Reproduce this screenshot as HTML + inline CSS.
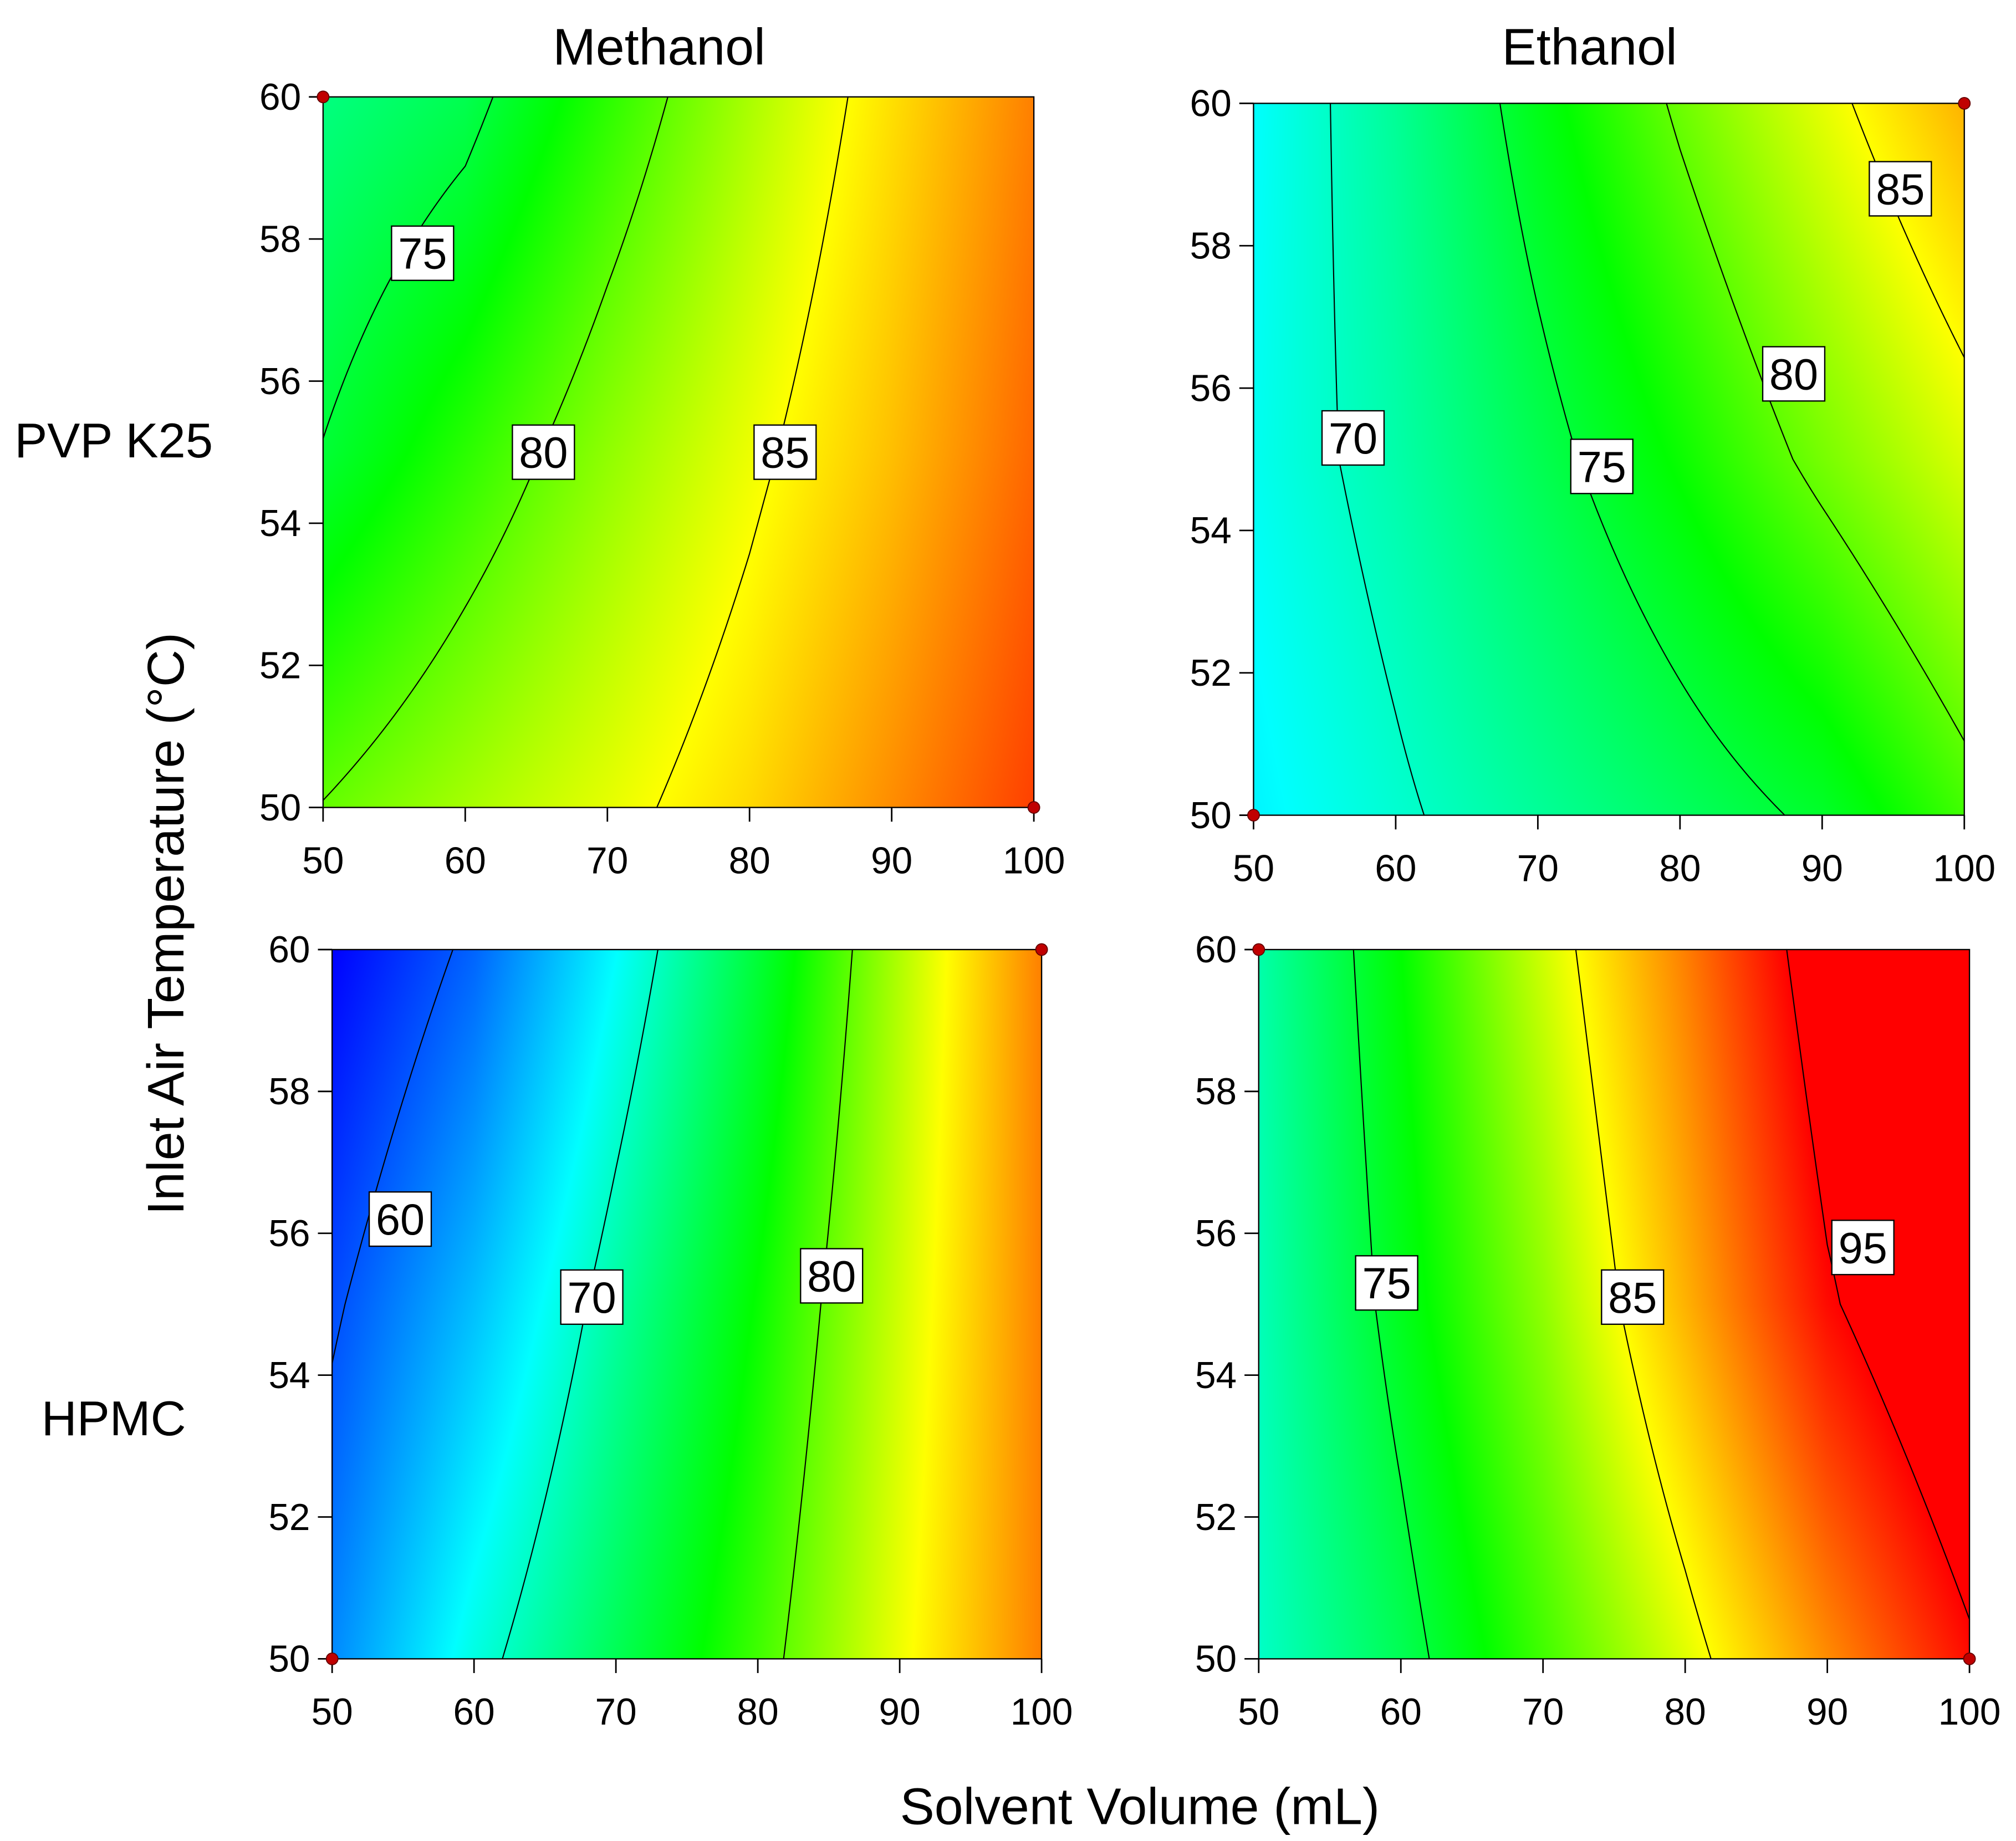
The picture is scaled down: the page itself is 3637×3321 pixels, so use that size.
<!DOCTYPE html>
<html><head><meta charset="utf-8"><style>
html,body{margin:0;padding:0;background:#fff;}
#wrap{position:relative;width:3637px;height:3321px;overflow:hidden;}
canvas{position:absolute;}
svg{position:absolute;left:0;top:0;}
text{font-family:"Liberation Sans",sans-serif;fill:#000;}
</style></head><body>
<div id="wrap">
<canvas id="c0"></canvas>
<canvas id="c1"></canvas>
<canvas id="c2"></canvas>
<canvas id="c3"></canvas>
<svg id="svg" width="3637" height="3321" viewBox="0 0 1560 1425" preserveAspectRatio="none">
<text x="510" y="50" font-size="40" text-anchor="middle">Methanol</text>
<text x="1230" y="50" font-size="40" text-anchor="middle">Ethanol</text>
<text x="88" y="354" font-size="38" text-anchor="middle">PVP K25</text>
<text x="88" y="1111" font-size="38" text-anchor="middle">HPMC</text>
<text x="0" y="0" font-size="40" text-anchor="middle" transform="translate(142,715) rotate(-90)">Inlet Air Temperature (°C)</text>
<text x="882" y="1412" font-size="40" text-anchor="middle">Solvent Volume (mL)</text>
</svg>
</div>
<script>
const xs=[50,60,70,80,90,100];
const ys=[50,55,60];
const tlVals=[[80.1,82.2,84.2,86.5,89.5,92.5],[75.1,78.3,81.5,84.4,87.5,91],[72.5,74.2,78.3,82.3,86.2,90]];
const trVals=[[67.5,69.6,71.6,73.6,75.5,79],[68.5,71,74.1,77.3,80.7,83.8],[68,71.7,76.2,80.4,84.2,88]];
const blVals=[[62.5,69,74,79,84.5,90],[59.5,65,71.3,77.2,83.5,90],[56,60.7,67.9,75,82.5,90]];
const brVals=[[70,74,79,84,89.5,94.5],[70.5,76,81.5,88,94.6,99],[71,77,83.5,90,97,100]];
const tlLevels=[75,80,85], trLevels=[70,75,80,85], blLevels=[60,70,80], brLevels=[75,85,95];
const tlLabels=[[57,57.8,75],[65.5,55,80],[82.5,55,85]];
const trLabels=[[57,55.3,70],[74.5,54.9,75],[88,56.2,80],[95.5,58.8,85]];
const blLabels=[[54.8,56.2,60],[68.3,55.1,70],[85.2,55.4,80]];
const brLabels=[[59,55.3,75],[76.3,55.1,85],[92.5,55.8,95]];
const xTicks=[50,60,70,80,90,100], yTicks=[50,52,54,56,58,60];
const S=3637/1560, SY=3321/1425;
const panels=[
 {id:'c0',name:'methanol-pvp',x0:250,y0:75,x1:800,y1:625,v:tlVals,lv:tlLevels,lb:tlLabels,dots:[[50,60],[100,50]]},
 {id:'c1',name:'ethanol-pvp',x0:970,y0:80,x1:1520,y1:631,v:trVals,lv:trLevels,lb:trLabels,dots:[[50,50],[100,60]]},
 {id:'c2',name:'methanol-hpmc',x0:257,y0:735,x1:806,y1:1284,v:blVals,lv:blLevels,lb:blLabels,dots:[[100,60],[50,50]]},
 {id:'c3',name:'ethanol-hpmc',x0:974,y0:735,x1:1524,y1:1284,v:brVals,lv:brLevels,lb:brLabels,dots:[[50,60],[100,50]]}];
function interp(v,x,y){
 let i=Math.min(4,Math.max(0,Math.floor((x-50)/10)));let tx=(x-xs[i])/10;
 let j=Math.min(1,Math.max(0,Math.floor((y-50)/5)));let ty=(y-ys[j])/5;
 const a=v[j][i]*(1-tx)+v[j][i+1]*tx, b=v[j+1][i]*(1-tx)+v[j+1][i+1]*tx;
 return a*(1-ty)+b*ty;}
const stops=[[56,0,0,255],[68,0,255,255],[77,0,255,0],[85,255,255,0],[95,255,0,0]];
function color(z){
 if(z<=stops[0][0])return stops[0].slice(1);
 for(let k=1;k<stops.length;k++){if(z<=stops[k][0]){const a=stops[k-1],b=stops[k],t=(z-a[0])/(b[0]-a[0]);return [a[1]+(b[1]-a[1])*t,a[2]+(b[2]-a[2])*t,a[3]+(b[3]-a[3])*t];}}
 return stops[stops.length-1].slice(1);}
const NS='http://www.w3.org/2000/svg';const svg=document.getElementById('svg');
function el(tag,attrs,parent){const e=document.createElementNS(NS,tag);for(const k in attrs)e.setAttribute(k,attrs[k]);(parent||svg).appendChild(e);return e;}
panels.forEach(p=>{
 const sx=x=>p.x0+(x-50)/50*(p.x1-p.x0), sy=y=>p.y1-(y-50)/10*(p.y1-p.y0);
 const c=document.getElementById(p.id);
 const L=Math.round(p.x0*S),T=Math.round(p.y0*SY),W=Math.round(p.x1*S)-L,H=Math.round(p.y1*SY)-T;
 c.width=W;c.height=H;c.style.left=L+'px';c.style.top=T+'px';
 const ctx=c.getContext('2d');const img=ctx.createImageData(W,H);
 for(let py=0;py<H;py++){const y=60-10*(py+0.5)/H;for(let px=0;px<W;px++){const x=50+50*(px+0.5)/W;const col=color(interp(p.v,x,y));const o=(py*W+px)*4;img.data[o]=col[0];img.data[o+1]=col[1];img.data[o+2]=col[2];img.data[o+3]=255;}}
 ctx.putImageData(img,0,0);
 const g=el('g',{});
 
 
 const N=120;
 p.lv.forEach(lev=>{
  let d='';
  for(let j=0;j<N;j++)for(let i=0;i<N;i++){
   const xa=50+50*i/N,xb=50+50*(i+1)/N,ya=50+10*j/N,yb=50+10*(j+1)/N;
   const pts=[[xa,ya],[xb,ya],[xb,yb],[xa,yb]];const vals=pts.map(q=>interp(p.v,q[0],q[1]));
   const cr=[];
   for(let e=0;e<4;e++){const a=vals[e],b=vals[(e+1)%4];if((a>=lev)!==(b>=lev)){const t=(lev-a)/(b-a);const P=pts[e],Q=pts[(e+1)%4];cr.push([P[0]+(Q[0]-P[0])*t,P[1]+(Q[1]-P[1])*t]);}}
   for(let k=0;k+1<cr.length;k+=2)d+='M'+sx(cr[k][0]).toFixed(2)+' '+sy(cr[k][1]).toFixed(2)+'L'+sx(cr[k+1][0]).toFixed(2)+' '+sy(cr[k+1][1]).toFixed(2);
  }
  const path=el('path',{d:d,stroke:'#000','stroke-width':0.9,fill:'none','stroke-linecap':'round'},g);
  
  
 });
 el('rect',{x:p.x0,y:p.y0,width:p.x1-p.x0,height:p.y1-p.y0,fill:'none',stroke:'#000','stroke-width':1},g);
 xTicks.forEach(t=>{const X=sx(t);el('line',{x1:X,x2:X,y1:p.y1,y2:p.y1+11,stroke:'#000','stroke-width':1.2},g);
  const tx=el('text',{x:X,y:p.y1+51,'font-size':29,'text-anchor':'middle'},g);tx.textContent=t;
  
  });
 yTicks.forEach(t=>{const Y=sy(t);el('line',{x1:p.x0-11,x2:p.x0,y1:Y,y2:Y,stroke:'#000','stroke-width':1.2},g);
  const tx=el('text',{x:p.x0-17,y:Y+10,'font-size':29,'text-anchor':'end'},g);tx.textContent=t;
  
  });
 p.lb.forEach(l=>{const X=sx(l[0]),Y=sy(l[1]);
  const r=el('rect',{x:X-24,y:Y-21,width:48,height:42,fill:'#fff',stroke:'#000','stroke-width':1},g);
  
  
  const tx=el('text',{x:X,y:Y+12,'font-size':34,'text-anchor':'middle'},g);tx.textContent=l[2];
  
  });
 p.dots.forEach(dt=>{const ci=el('circle',{cx:sx(dt[0]),cy:sy(dt[1]),r:4.5,fill:'#c00000',stroke:'#600','stroke-width':0.8},g);
  
  });
});
</script>
</body></html>
